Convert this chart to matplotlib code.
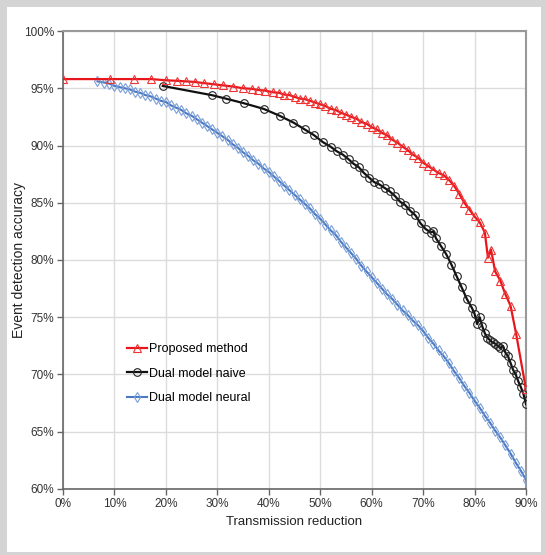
import matplotlib.pyplot as plt
from matplotlib.patches import Rectangle
from matplotlib.ticker import FuncFormatter

# values (x = transmission reduction %, y = accuracy %)
proposed_x = [0, 9.1, 13.8, 17.1, 20, 22.1, 23.9, 25.6, 27.4, 29.3, 31.1, 33, 35,
              36.7, 37.9, 39.2, 40.8, 42, 43, 44, 45, 46, 47, 48, 49, 50, 51, 52,
              53, 54, 55, 56, 57, 58, 59, 60, 61, 62, 63, 64, 65, 66, 67, 68, 69,
              70, 71, 72, 73, 74, 75, 76, 77, 78, 79, 80, 81, 82, 82.6, 83.2, 84,
              85, 86, 87, 88.1, 90]
proposed_y = [95.8, 95.8, 95.8, 95.8, 95.7, 95.65, 95.6, 95.55, 95.45, 95.35, 95.25,
              95.15, 95.0, 94.95, 94.85, 94.8, 94.65, 94.6, 94.45, 94.4, 94.25, 94.1,
              94.05, 93.9, 93.75, 93.6, 93.45, 93.2, 93.1, 92.85, 92.7, 92.5, 92.35,
              92.05, 91.9, 91.6, 91.4, 91.1, 90.9, 90.5, 90.25, 89.9, 89.6, 89.2,
              88.95, 88.5, 88.2, 87.9, 87.6, 87.4, 87.0, 86.5, 85.8, 85.0, 84.4, 83.8,
              83.3, 82.4, 80.2, 80.9, 79.0, 78.2, 77.0, 76.0, 73.5, 68.7]

naive_x = [19.4, 28.9, 31.6, 35.1, 39.0, 42.1, 44.8, 47.0, 48.8, 50.5, 52, 53.2, 54.4,
           55.5, 56.5, 57.5, 58.5, 59.5, 60.5, 61.5, 62.5, 63.5, 64.5, 65.5, 66.5,
           67.5, 68.5, 69.5, 70.5, 71.5, 72.0, 72.5, 73.5, 74.5, 75.5, 76.5, 77.5,
           78.5, 79.5, 80.0, 80.5, 81.0, 81.5, 82.0, 82.5, 83.0, 83.5, 84.0, 84.5,
           85.0, 85.5, 86.0, 86.5, 87.0, 87.5, 88.0, 88.5, 89.0, 89.5, 90.0]
naive_y = [95.2, 94.4, 94.1, 93.7, 93.2, 92.6, 92.0, 91.4, 90.9, 90.3, 89.9, 89.5, 89.2,
           88.8, 88.4, 88.1, 87.6, 87.2, 86.8, 86.6, 86.3, 86.0, 85.6, 85.1, 84.8,
           84.3, 83.9, 83.2, 82.7, 82.4, 82.5, 81.9, 81.2, 80.5, 79.6, 78.6, 77.6,
           76.6, 75.8, 75.3, 74.4, 75.0, 74.2, 73.6, 73.2, 73.0, 72.8, 72.7, 72.5,
           72.3, 72.5, 71.9, 71.6, 71.0, 70.4, 70.0, 69.4, 68.9, 68.3, 67.4]

neural_x = [6.7, 8, 9, 10, 11, 12, 13, 14, 15, 16, 17, 18, 19, 20, 21, 22, 23, 24, 25,
            26, 27, 28, 29, 30, 31, 32, 33, 34, 35, 36, 37, 38, 39, 40, 41, 42, 43,
            44, 45, 46, 47, 48, 49, 50, 51, 52, 53, 54, 55, 56, 57, 58, 59, 60, 61,
            62, 63, 64, 65, 66, 67, 68, 69, 70, 71, 72, 73, 74, 75, 76, 77, 78, 79,
            80, 81, 82, 83, 84, 85, 86, 87, 88, 89, 90]
neural_y = [95.6, 95.5, 95.4, 95.2, 95.1, 95.0, 94.9, 94.7, 94.6, 94.4, 94.3, 94.1,
            93.9, 93.8, 93.5, 93.3, 93.1, 92.8, 92.6, 92.3, 92.0, 91.7, 91.4, 91.1,
            90.8, 90.5, 90.1, 89.8, 89.4, 89.1, 88.7, 88.4, 88.0, 87.7, 87.3, 86.9,
            86.5, 86.1, 85.7, 85.3, 84.9, 84.5, 84.0, 83.6, 83.1, 82.6, 82.2, 81.6,
            81.1, 80.6, 80.1, 79.5, 79.0, 78.5, 78.0, 77.5, 77.0, 76.6, 76.1, 75.6,
            75.2, 74.7, 74.3, 73.8, 73.2, 72.7, 72.1, 71.6, 71.0, 70.3, 69.7, 69.0,
            68.4, 67.7, 67.1, 66.4, 65.8, 65.1, 64.5, 63.8, 63.1, 62.3, 61.6, 60.8]

font = ['Liberation Sans', 'DejaVu Sans']

fig = plt.figure(figsize=(5.46, 5.55), dpi=100, facecolor='#d4d4d4')
# white panel inside the grey frame
fig.patches.append(Rectangle((7 / 546, 3 / 555), 534 / 546, 545 / 555,
                             transform=fig.transFigure, facecolor='white',
                             edgecolor='none', zorder=-10))

ax = fig.add_axes([63 / 546, 1 - 489 / 555, 463 / 546, 458 / 555])

ax.plot(neural_x, neural_y, color='#4a78c2', lw=1.5, marker='d', ms=5.5,
        mfc='none', mec='#7a9fd6', mew=0.8, label='Dual model neural', zorder=3)
ax.plot(naive_x, naive_y, color='#111111', lw=1.6, marker='o', ms=5.5,
        mfc='none', mec='#222222', mew=0.8, label='Dual model naive', zorder=4)
ax.plot(proposed_x, proposed_y, color='#e8161c', lw=1.6, marker='^', ms=6,
        mfc='none', mec='#ee3333', mew=0.8, label='Proposed method', zorder=5)

ax.set_xlim(0, 90)
ax.set_ylim(60, 100)
ax.set_xticks(range(0, 91, 10))
ax.set_yticks(range(60, 101, 5))
pct = FuncFormatter(lambda v, p: '%d%%' % v)
ax.xaxis.set_major_formatter(pct)
ax.yaxis.set_major_formatter(pct)
ax.grid(True, color='#dcdcdc', lw=1)
ax.set_axisbelow(True)

for s in ['left', 'bottom']:
    ax.spines[s].set_color('#666666')
    ax.spines[s].set_linewidth(1.2)
for s in ['top', 'right']:
    ax.spines[s].set_color('#999999')
    ax.spines[s].set_linewidth(1.5)

ax.tick_params(direction='out', length=4, width=1, color='#666666',
               labelsize=8.5, labelcolor='#333333', pad=2.5)
for lab in ax.get_xticklabels() + ax.get_yticklabels():
    lab.set_family(font)

ax.set_xlabel('Transmission reduction', fontsize=9.5, family=font,
              color='#222222')
ax.xaxis.set_label_coords(0.5, -0.058)
ax.set_ylabel('Event detection accuracy', fontsize=10, family=font,
              color='#222222')
ax.yaxis.set_label_coords(-0.079, 0.5)

handles, labels = ax.get_legend_handles_labels()
leg = ax.legend(handles[::-1], labels[::-1], loc='upper left',
                bbox_to_anchor=(0.138, 0.318), frameon=False,
                handlelength=1.6, handletextpad=0.2, labelspacing=1.0,
                borderpad=0, borderaxespad=0, prop={'family': font, 'size': 9})

fig.savefig('out.png', dpi=100, facecolor=fig.get_facecolor())
